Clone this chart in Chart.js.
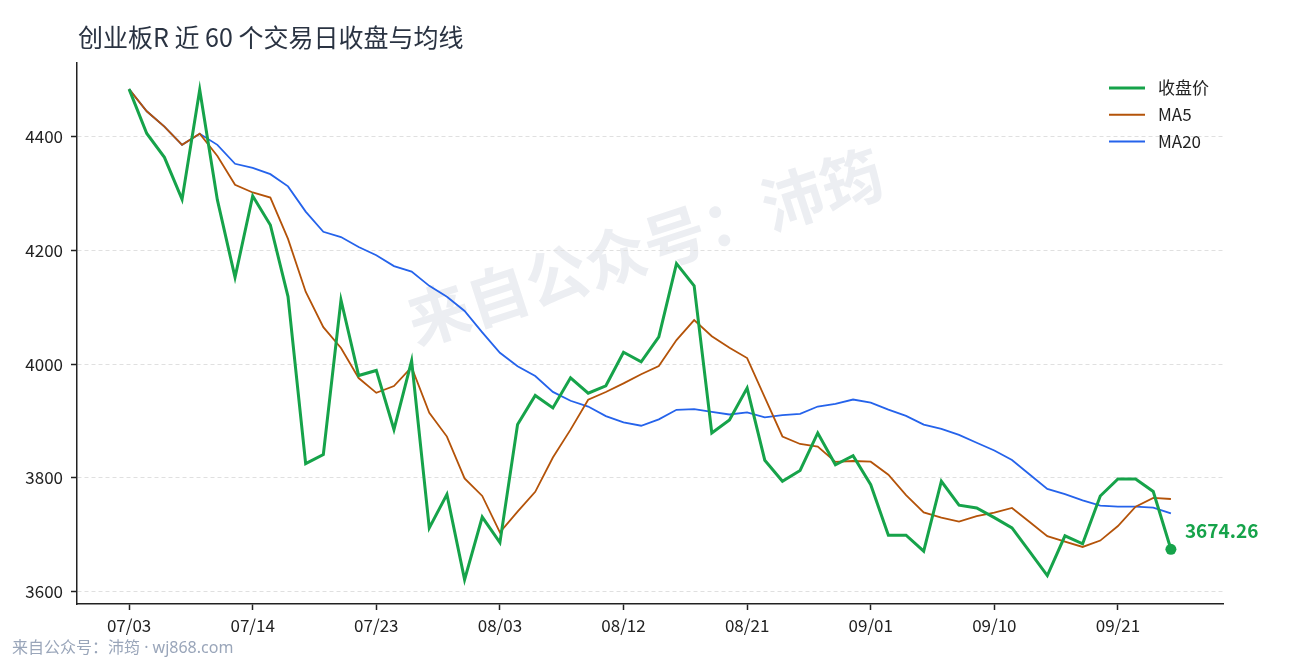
<!DOCTYPE html>
<html>
<head>
<meta charset="utf-8">
<title>创业板R 近 60 个交易日收盘与均线</title>
<script src="https://cdn.jsdelivr.net/npm/chart.js@4.4.1/dist/chart.umd.min.js"></script>
<style>
  html, body { margin: 0; padding: 0; background: #fff; }
  #wrap { width: 1290px; height: 660px; position: relative; }
</style>
</head>
<body>
<div id="wrap"><canvas id="chart"></canvas></div>
<script>
// 交易日
const dates = [
  '07/03','07/06','07/07','07/08','07/09','07/10','07/13','07/14','07/15','07/16',
  '07/17','07/20','07/21','07/22','07/23','07/24','07/27','07/28','07/29','07/30',
  '07/31','08/03','08/04','08/05','08/06','08/07','08/10','08/11','08/12','08/13',
  '08/14','08/17','08/18','08/19','08/20','08/21','08/24','08/25','08/26','08/27',
  '08/28','08/31','09/01','09/02','09/03','09/04','09/07','09/08','09/09','09/10',
  '09/11','09/14','09/15','09/16','09/17','09/18','09/21','09/22','09/23','09/24'
];

// 收盘价
const closes = [
  4484, 4406, 4364, 4290, 4483, 4289, 4153, 4296, 4245, 4119,
  3825, 3841, 4113, 3980, 3989, 3885, 4006, 3712, 3771, 3621,
  3731, 3686, 3894, 3945, 3923, 3976, 3949, 3962, 4021, 4004,
  4048, 4177, 4138, 3879, 3902, 3958, 3831, 3794, 3813, 3879,
  3823, 3839, 3788, 3699, 3699, 3671, 3794, 3752, 3747, 3730,
  3712, 3670, 3628, 3698, 3684, 3768, 3798, 3798, 3776, 3674.26
];

// MA5
const ma5 = [
  4484.0, 4445.0, 4418.0, 4386.0, 4405.4, 4366.4, 4315.8, 4302.2, 4293.2, 4220.4,
  4127.6, 4065.2, 4028.6, 3975.6, 3949.6, 3961.6, 3994.6, 3914.4, 3872.6, 3799.0,
  3768.2, 3704.2, 3740.6, 3775.4, 3835.8, 3884.8, 3937.4, 3951.0, 3966.2, 3982.4,
  3996.8, 4042.4, 4077.6, 4049.2, 4028.8, 4010.8, 3941.6, 3872.8, 3859.6, 3855.0,
  3828.0, 3829.6, 3828.4, 3805.6, 3769.6, 3739.2, 3730.2, 3723.0, 3732.6, 3738.8,
  3747.0, 3722.2, 3697.4, 3687.6, 3678.4, 3689.6, 3715.2, 3749.2, 3764.8, 3762.8
];

// MA20
const ma20 = [
  4484.0, 4445.0, 4418.0, 4386.0, 4405.4, 4386.0, 4352.7, 4345.6, 4334.4, 4312.9,
  4268.5, 4232.9, 4223.7, 4206.3, 4191.8, 4172.6, 4162.8, 4137.8, 4118.5, 4093.6,
  4056.0, 4020.0, 3996.5, 3979.2, 3951.2, 3935.6, 3925.4, 3908.7, 3897.5, 3891.7,
  3902.9, 3919.7, 3920.9, 3915.9, 3911.5, 3915.2, 3906.4, 3910.5, 3912.6, 3925.5,
  3930.1, 3937.8, 3932.5, 3920.2, 3909.0, 3893.7, 3886.0, 3875.5, 3861.8, 3848.1,
  3831.3, 3805.9, 3780.4, 3771.4, 3760.5, 3751.0, 3749.3, 3749.5, 3747.7, 3737.4
];

const yTicks = [3600, 3800, 4000, 4200, 4400];
const xTicks = [0, 7, 14, 21, 28, 35, 42, 49, 56];

const GREEN = '#16a34a';
const ORANGE = '#b45309';
const BLUE = '#2563eb';
const FONT = '"Noto Sans CJK SC", "Noto Sans", sans-serif';
const LATIN_FIRST = '"Noto Sans", "Noto Sans CJK SC", sans-serif';

function toPoints(arr) {
  return arr.map((v, i) => ({ x: i, y: v }));
}

const lastIdx = closes.length - 1;

// 标题、水印、图例、末值标注
const decor = {
  id: 'decor',
  beforeDraw(chart) {
    const ctx = chart.ctx;
    ctx.save();
    ctx.translate(645, 247);
    ctx.rotate(-18 * Math.PI / 180);
    ctx.font = 'bold 62px ' + FONT;
    ctx.fillStyle = '#eceef2';
    ctx.textAlign = 'center';
    ctx.textBaseline = 'middle';
    ctx.fillText('来自公众号：沛筠', 0, 0);
    ctx.restore();
  },
  afterDraw(chart) {
    const ctx = chart.ctx;
    ctx.save();
    // 标题
    ctx.font = '25px ' + FONT;
    ctx.fillStyle = '#2a3342';
    ctx.textAlign = 'left';
    ctx.textBaseline = 'middle';
    ctx.fillText('创业板R 近 60 个交易日收盘与均线', 78, 37);

    // 页脚
    ctx.font = '16px ' + LATIN_FIRST;
    ctx.fillStyle = '#9aa6ba';
    ctx.fillText('来自公众号：沛筠 · wj868.com', 12, 648);

    // 图例
    const items = [
      { label: '收盘价', color: GREEN, width: 3 },
      { label: 'MA5', color: ORANGE, width: 2 },
      { label: 'MA20', color: BLUE, width: 2 }
    ];
    items.forEach((it, k) => {
      const y = 88 + k * 26.7;
      ctx.beginPath();
      ctx.strokeStyle = it.color;
      ctx.lineWidth = it.width;
      ctx.moveTo(1109, y);
      ctx.lineTo(1145, y);
      ctx.stroke();
      ctx.font = '17px ' + FONT;
      ctx.fillStyle = '#222';
      ctx.fillText(it.label, 1158, y);
    });

    // 末值标注
    const pt = chart.getDatasetMeta(0).data[lastIdx];
    ctx.font = 'bold 19px ' + FONT;
    ctx.fillStyle = GREEN;
    ctx.fillText(closes[lastIdx].toFixed(2), pt.x + 14, pt.y - 19);
    ctx.restore();
  }
};

const ctx = document.getElementById('chart').getContext('2d');
new Chart(ctx, {
  type: 'line',
  data: {
    datasets: [
      {
        label: '收盘价',
        data: toPoints(closes),
        borderColor: GREEN,
        backgroundColor: GREEN,
        borderWidth: 3,
        pointRadius: c => (c.dataIndex === lastIdx ? 5.5 : 0),
        pointBorderWidth: 0,
        pointBackgroundColor: GREEN,
        pointHoverRadius: 0,
        tension: 0
      },
      {
        label: 'MA5',
        data: toPoints(ma5),
        borderColor: ORANGE,
        borderWidth: 1.8,
        pointRadius: 0,
        tension: 0
      },
      {
        label: 'MA20',
        data: toPoints(ma20),
        borderColor: BLUE,
        borderWidth: 1.8,
        pointRadius: 0,
        tension: 0
      }
    ]
  },
  options: {
    responsive: true,
    maintainAspectRatio: false,
    animation: false,
    layout: { padding: { left: 0, right: 67, top: 63, bottom: 0 } },
    plugins: {
      legend: { display: false },
      tooltip: { enabled: false },
      title: { display: false }
    },
    scales: {
      x: {
        type: 'linear',
        min: -2.95,
        max: 61.95,
        afterBuildTicks: s => { s.ticks = xTicks.map(v => ({ value: v })); },
        afterFit: s => { s.height = 56; },
        ticks: {
          autoSkip: false,
          maxRotation: 0,
          padding: 5,
          color: '#222',
          font: { family: FONT, size: 17 },
          callback: v => dates[v]
        },
        grid: {
          drawOnChartArea: false,
          drawTicks: true,
          tickLength: 6,
          tickColor: '#222',
          tickWidth: 1.5
        },
        border: { display: true, color: '#222', width: 1.5 }
      },
      y: {
        min: 3578,
        max: 4530,
        afterBuildTicks: s => { s.ticks = yTicks.map(v => ({ value: v })); },
        afterFit: s => { s.width = 77; },
        ticks: {
          padding: 8,
          color: '#222',
          font: { family: FONT, size: 17 },
          callback: v => String(v)
        },
        grid: {
          color: '#e0e0e0',
          lineWidth: 1,
          drawTicks: true,
          tickLength: 6,
          tickColor: '#222',
          tickWidth: 1.5
        },
        border: { display: true, color: '#222', width: 1.5, dash: [4, 3] }
      }
    }
  },
  plugins: [decor]
});
</script>
</body>
</html>
